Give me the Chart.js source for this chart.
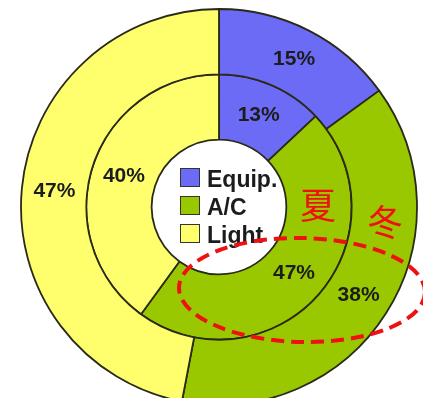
<!DOCTYPE html>
<html>
<head>
<meta charset="utf-8">
<script src="https://cdn.jsdelivr.net/npm/chart.js@4.4.1/dist/chart.umd.min.js"></script>
<style>
  html, body { margin: 0; padding: 0; background: #fff; overflow: hidden; }
</style>
</head>
<body>
<canvas id="energyChart" width="423" height="398"></canvas>
<script>
const categories = ["Equip.", "A/C", "Light"];
const winterShare = [15, 38, 47]; // outer ring
const summerShare = [13, 47, 40]; // inner ring
const sliceColors = ["#6b6bf6", "#99c800", "#ffff6e"];
const seasonLabels = ["夏", "冬"];

// percent text in the middle of every slice
const sliceLabels = {
  id: "sliceLabels",
  afterDatasetsDraw(chart) {
    const { ctx } = chart;
    ctx.save();
    ctx.font = "bold 21px Arial, 'Liberation Sans', sans-serif";
    ctx.fillStyle = "#1c1c1c";
    ctx.textAlign = "center";
    ctx.textBaseline = "middle";
    chart.data.datasets.forEach((ds, i) => {
      chart.getDatasetMeta(i).data.forEach((arc, j) => {
        const p = arc.tooltipPosition();
        ctx.fillText(ds.data[j] + "%", p.x, p.y);
      });
    });
    ctx.restore();
  },
};

// legend drawn inside the hole
const centerLegend = {
  id: "centerLegend",
  afterDraw(chart) {
    const { ctx } = chart;
    ctx.save();
    ctx.font = "bold 23px Arial, 'Liberation Sans', sans-serif";
    ctx.textBaseline = "alphabetic";
    ctx.textAlign = "left";
    categories.forEach((name, i) => {
      const top = 168 + i * 28;
      ctx.fillStyle = sliceColors[i];
      ctx.fillRect(180, top, 20, 19);
      ctx.strokeStyle = "#333";
      ctx.lineWidth = 1;
      ctx.strokeRect(180.5, top + 0.5, 19, 18);
      ctx.fillStyle = "#1c1c1c";
      ctx.fillText(name, 207, top + 19);
    });
    ctx.restore();
  },
};

// red season notes and the dashed ring around the A/C slices
const seasonNotes = {
  id: "seasonNotes",
  afterDraw(chart) {
    const { ctx } = chart;
    ctx.save();
    ctx.fillStyle = "#f01010";
    ctx.textAlign = "center";
    ctx.textBaseline = "middle";
    ctx.font = "normal 36px 'Noto Sans CJK SC', sans-serif";
    ctx.fillText(seasonLabels[0], 318, 205);
    ctx.fillText(seasonLabels[1], 385, 222);

    ctx.strokeStyle = "#ee1111";
    ctx.lineWidth = 4;
    ctx.setLineDash([13, 7]);
    ctx.beginPath();
    ctx.ellipse(302, 290, 123, 52, 0.02, 0, Math.PI * 2);
    ctx.stroke();
    ctx.restore();
  },
};

new Chart(document.getElementById("energyChart"), {
  type: "doughnut",
  data: {
    labels: categories,
    datasets: [
      {
        data: winterShare,
        backgroundColor: sliceColors,
        borderColor: "#2a2a18",
        borderWidth: 1.8,
      },
      {
        data: summerShare,
        backgroundColor: sliceColors,
        borderColor: "#2a2a18",
        borderWidth: 1.8,
      },
    ],
  },
  options: {
    responsive: false,
    animation: false,
    radius: 198,
    cutout: "34%",
    layout: { padding: { left: 15, top: 16, right: 0, bottom: 0 } },
    plugins: {
      legend: { display: false },
      tooltip: { enabled: false },
    },
  },
  plugins: [sliceLabels, centerLegend, seasonNotes],
});
</script>
</body>
</html>
